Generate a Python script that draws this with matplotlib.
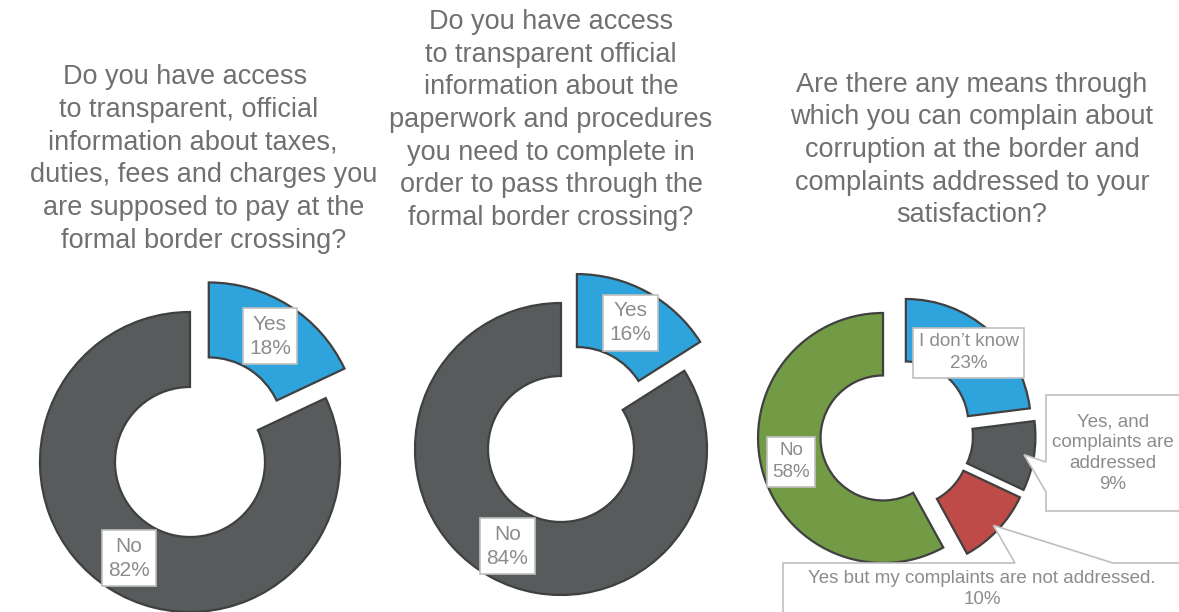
import numpy as np
import matplotlib.pyplot as plt
from matplotlib.patches import Polygon

plt.rcParams['font.family'] = ['Liberation Sans', 'DejaVu Sans']

W, H = 1179, 612

# Survey answers (percent)
q1_labels = ["Yes", "No"]
q1_values = [18, 82]

q2_labels = ["Yes", "No"]
q2_values = [16, 84]

q3_labels = ["I don\u2019t know",
             "Yes, and\ncomplaints are\naddressed",
             "Yes but my complaints are not addressed.",
             "No"]
q3_values = [23, 9, 10, 58]

titles = [
    "Do you have access     \nto transparent, official    \ninformation about taxes,   \n"
    "duties, fees and charges you\nare supposed to pay at the\nformal border crossing?",
    "Do you have access\nto transparent official\ninformation about the\n"
    "paperwork and procedures\nyou need to complete in\norder to pass through the\n"
    "formal border crossing?",
    "Are there any means through\nwhich you can complain about\n"
    "corruption at the border and\ncomplaints addressed to your\nsatisfaction?",
]

BLUE = "#2EA3DC"
GREY = "#575B5C"
RED = "#BE4B48"
GREEN = "#739A44"
EDGE = "#404040"
TXT = "#8C8C8C"
TITLE = "#707070"
BOX = "#BFBFBF"


def sy(y):
    # screen-style y (from the top) to data y
    return H - y


fig = plt.figure(figsize=(W / 100, H / 100), dpi=100)
ax = fig.add_axes([0, 0, 1, 1])


def donut(values, colors, cx, cy, r, explode):
    wedges, _ = ax.pie(values, colors=colors, startangle=90, counterclock=False,
                       radius=r, center=(cx, sy(cy)), explode=explode,
                       wedgeprops=dict(width=0.5 * r, edgecolor=EDGE, linewidth=1.6))
    return wedges


def along(w, frac):
    mid = np.deg2rad((w.theta1 + w.theta2) / 2)
    cx, cy = w.center
    return cx + frac * w.r * np.cos(mid), cy + frac * w.r * np.sin(mid)


def box_label(w, text, size):
    x, y = along(w, 0.76)
    ax.text(x, y, text, ha='center', va='center', fontsize=size, color=TXT,
            linespacing=1.35,
            bbox=dict(boxstyle='square,pad=0.3', fc='white', ec=BOX, lw=1.2))


# chart 1
w1 = donut(q1_values, [BLUE, GREY], 190, 462, 150, [35, 0])
for w, lab, v in zip(w1, q1_labels, q1_values):
    box_label(w, f"{lab}\n{v}%", 15)

# chart 2
w2 = donut(q2_values, [BLUE, GREY], 561, 449, 146, [33, 0])
for w, lab, v in zip(w2, q2_labels, q2_values):
    box_label(w, f"{lab}\n{v}%", 15)

# chart 3
w3 = donut(q3_values, [BLUE, GREY, RED, GREEN], 896.6, 434.5, 125, [14, 14, 14, 14])
box_label(w3[0], f"{q3_labels[0]}\n{q3_values[0]}%", 13.5)
box_label(w3[3], f"{q3_labels[3]}\n{q3_values[3]}%", 13.5)

# callout for the dark grey slice
tx, ty = along(w3[1], 0.92)
pts = [(1046, 395), (1185, 395), (1185, 511), (1046, 511), (1046, 492)]
pts = [(x, sy(y)) for x, y in pts] + [(tx, ty), (1046, sy(462))]
ax.add_patch(Polygon(pts, closed=True, fc='white', ec=BOX, lw=1.2, zorder=3))
ax.text(1113, sy(453), f"{q3_labels[1]}\n{q3_values[1]}%", ha='center', va='center',
        fontsize=13.5, color=TXT, linespacing=1.3, zorder=4)

# callout for the red slice
tx, ty = along(w3[2], 0.95)
pts = [(783, 563), (1015, 563)]
pts = [(x, sy(y)) for x, y in pts] + [(tx, ty)]
pts += [(x, sy(y)) for x, y in [(1113, 563), (1185, 563), (1185, 625), (783, 625)]]
ax.add_patch(Polygon(pts, closed=True, fc='white', ec=BOX, lw=1.2, zorder=3))
ax.text(982, sy(589), f"{q3_labels[2]}\n{q3_values[2]}%", ha='center', va='center',
        fontsize=13.5, color=TXT, linespacing=1.3, zorder=4)

# question titles
for (x, y), t in zip([(204, 159), (551, 120), (972, 150)], titles):
    ax.text(x, sy(y), t, ha='center', va='center', fontsize=19.5, color=TITLE,
            linespacing=1.33)

ax.set_xlim(0, W)
ax.set_ylim(0, H)
ax.set_aspect('auto')
ax.axis('off')

fig.savefig("out.png", dpi=100, facecolor='white')
